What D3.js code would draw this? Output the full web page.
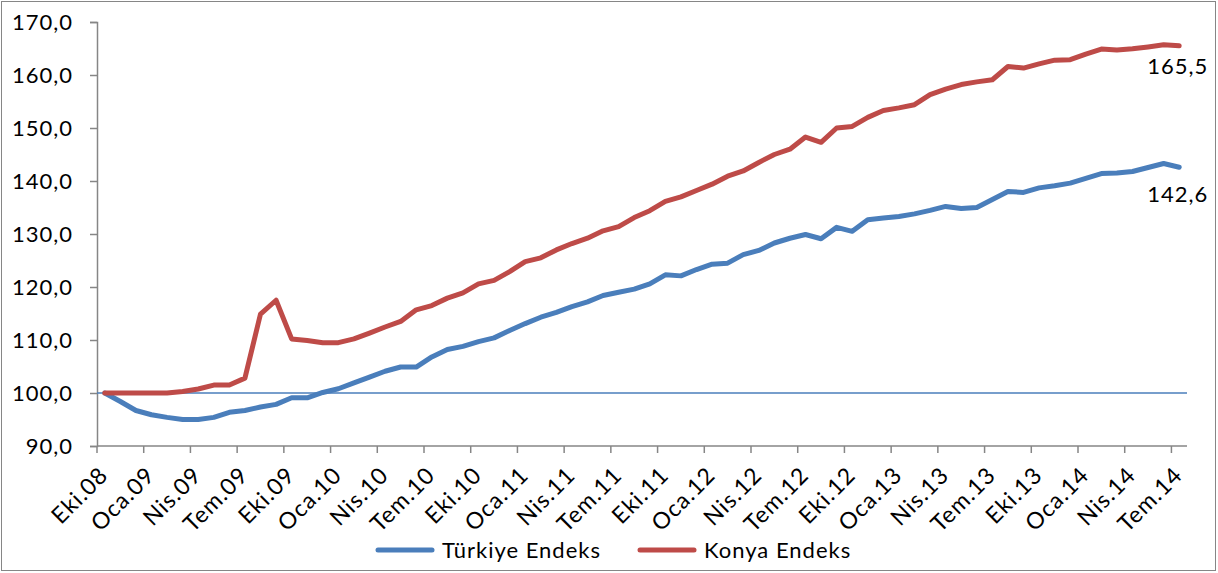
<!DOCTYPE html>
<head>
    <style>
        body { margin: 0; background: #fff; }
        text { font-family: Lato, "Open Sans", sans-serif; fill: #000; letter-spacing: 1px; }
        .axis text { font-size: 22px; }
        .xlab text { font-size: 23px; }
    </style>
    <script src="https://d3js.org/d3.v7.min.js"></script>
</head>
<body>
    <svg width="1218" height="573"></svg>
    <script>
        var categories = [
            "Eki.08","Kas.08","Ara.08",
            "Oca.09","Şub.09","Mar.09","Nis.09","May.09","Haz.09","Tem.09","Ağu.09","Eyl.09","Eki.09","Kas.09","Ara.09",
            "Oca.10","Şub.10","Mar.10","Nis.10","May.10","Haz.10","Tem.10","Ağu.10","Eyl.10","Eki.10","Kas.10","Ara.10",
            "Oca.11","Şub.11","Mar.11","Nis.11","May.11","Haz.11","Tem.11","Ağu.11","Eyl.11","Eki.11","Kas.11","Ara.11",
            "Oca.12","Şub.12","Mar.12","Nis.12","May.12","Haz.12","Tem.12","Ağu.12","Eyl.12","Eki.12","Kas.12","Ara.12",
            "Oca.13","Şub.13","Mar.13","Nis.13","May.13","Haz.13","Tem.13","Ağu.13","Eyl.13","Eki.13","Kas.13","Ara.13",
            "Oca.14","Şub.14","Mar.14","Nis.14","May.14","Haz.14","Tem.14"
        ];

        var turkiye = [
            100.0, 98.4, 96.7, 95.9, 95.4, 95.0, 95.0, 95.4, 96.35, 96.7,
            97.35, 97.85, 99.1, 99.1, 100.1, 100.8, 101.9, 103.0, 104.1, 104.9,
            104.9, 106.8, 108.2, 108.8, 109.7, 110.4, 111.8, 113.1, 114.3, 115.2,
            116.3, 117.2, 118.4, 119.0, 119.6, 120.6, 122.3, 122.1, 123.3, 124.3,
            124.5, 126.1, 126.9, 128.3, 129.2, 129.9, 129.1, 131.25, 130.5, 132.7,
            133.0, 133.3, 133.8, 134.45, 135.2, 134.8, 135.0, 136.5, 138.0, 137.85,
            138.7, 139.1, 139.6, 140.5, 141.4, 141.5, 141.8, 142.55, 143.3, 142.6
        ];

        var konya = [
            100.0, 100.0, 100.0, 100.0, 100.0, 100.3, 100.75, 101.5, 101.5, 102.8,
            114.9, 117.5, 110.2, 109.9, 109.5, 109.5, 110.2, 111.3, 112.45, 113.5,
            115.7, 116.5, 117.9, 118.9, 120.6, 121.25, 122.9, 124.8, 125.5, 127.0,
            128.2, 129.2, 130.6, 131.4, 133.1, 134.4, 136.15, 137.0, 138.2, 139.4,
            140.9, 141.9, 143.5, 145.0, 146.0, 148.3, 147.3, 150.0, 150.3, 152.0,
            153.3, 153.8, 154.4, 156.3, 157.35, 158.2, 158.7, 159.1, 161.6, 161.3,
            162.1, 162.8, 162.9, 163.95, 164.9, 164.7, 164.95, 165.3, 165.7, 165.5
        ];

        var yTicks = [90, 100, 110, 120, 130, 140, 150, 160, 170];
        var seriesNames = ["Türkiye Endeks", "Konya Endeks"];
        var seriesColors = ["#4a7ebb", "#be4b48"];
        var endLabels = ["142,6", "165,5"];

        var svg = d3.select("svg");
        var plotLeft = 97, plotRight = 1187, plotTop = 22, plotBottom = 446;

        // outer frame
        svg.append("rect")
           .attr("x", 1.5).attr("y", 1.5)
           .attr("width", 1214).attr("height", 569)
           .attr("fill", "none").attr("stroke", "#868686");

        var x = d3.scaleBand().domain(categories).range([plotLeft, plotRight]);
        var y = d3.scaleLinear().domain([90, 170]).range([plotBottom, plotTop]);
        var cx = function(c) { return x(c) + x.bandwidth() / 2; };
        var fmt = function(v) { return d3.format(".1f")(v).replace(".", ","); };

        // y axis
        var yAxis = svg.append("g").attr("class", "axis")
            .attr("transform", "translate(" + plotLeft + ",0)")
            .call(d3.axisLeft(y).tickValues(yTicks).tickFormat(fmt).tickSize(7).tickPadding(17));
        yAxis.select(".domain").attr("stroke", "#868686").attr("stroke-width", 1.5);
        yAxis.selectAll(".tick line").attr("stroke", "#868686").attr("stroke-width", 1.5);

        // x axis line + ticks every third category
        svg.append("line")
           .attr("x1", plotLeft).attr("x2", plotRight)
           .attr("y1", plotBottom).attr("y2", plotBottom)
           .attr("stroke", "#868686").attr("stroke-width", 1.5);

        var tickCats = categories.filter(function(d, i) { return i % 3 === 0; });
        svg.append("g").selectAll("line")
           .data(tickCats).enter().append("line")
           .attr("x1", function(d) { return x(d); })
           .attr("x2", function(d) { return x(d); })
           .attr("y1", plotBottom).attr("y2", plotBottom + 7)
           .attr("stroke", "#868686").attr("stroke-width", 1.5);

        svg.append("g").attr("class", "xlab").selectAll("text")
           .data(tickCats).enter().append("text")
           .attr("transform", function(d) {
               return "translate(" + (cx(d) - 1) + "," + (plotBottom + 25) + ") rotate(-45)";
           })
           .attr("text-anchor", "end")
           .attr("dy", "0.35em")
           .text(function(d) { return d; });

        // 100 reference line
        svg.append("line")
           .attr("x1", plotLeft).attr("x2", plotRight)
           .attr("y1", y(100)).attr("y2", y(100))
           .attr("stroke", "#4a7ebb").attr("stroke-width", 1.5);

        var line = d3.line()
            .x(function(d, i) { return cx(categories[i]); })
            .y(function(d) { return y(d); });

        var labelDy = [35, 28];
        [turkiye, konya].forEach(function(series, k) {
            svg.append("path")
               .datum(series)
               .attr("d", line)
               .attr("fill", "none")
               .attr("stroke", seriesColors[k])
               .attr("stroke-width", 5)
               .attr("stroke-linejoin", "round")
               .attr("stroke-linecap", "round");

            var last = series.length - 1;
            svg.append("text")
               .attr("x", cx(categories[last]) + 29)
               .attr("y", y(series[last]) + labelDy[k])
               .attr("text-anchor", "end")
               .attr("font-size", 22)
               .text(endLabels[k]);
        });

        // legend
        var legendX = [378, 640];
        var legend = svg.append("g").selectAll("g")
            .data(seriesNames).enter().append("g")
            .attr("transform", function(d, i) { return "translate(" + legendX[i] + ",550)"; });
        legend.append("line")
            .attr("x1", 0).attr("x2", 54)
            .attr("stroke", function(d, i) { return seriesColors[i]; })
            .attr("stroke-width", 5)
            .attr("stroke-linecap", "round");
        legend.append("text")
            .attr("x", 64).attr("dy", "0.35em")
            .attr("font-size", 22)
            .text(function(d) { return d; });
    </script>
</body>
</html>
